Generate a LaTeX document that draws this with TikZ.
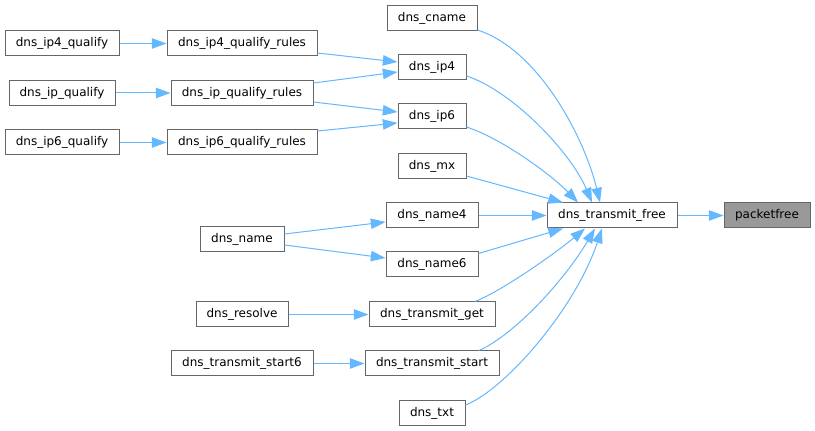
\documentclass[tikz,border=0pt]{standalone}
\usepackage{fontspec}
\setmainfont{DejaVu Sans}
\usetikzlibrary{arrows.meta,calc}
\definecolor{edgeblue}{HTML}{63B8FF}
\definecolor{boxgray}{HTML}{666666}
\definecolor{fillgray}{HTML}{999999}
\begin{document}
\begin{tikzpicture}[x=0.75pt,y=-0.75pt,
  box/.style={draw=boxgray, fill=white, line width=0.75pt, minimum height=18.75pt,
    inner sep=0pt, font=\fontsize{9}{10}\selectfont, text=black},
  bw/.style={minimum width=#1*0.75pt},
  hl/.style={fill=fillgray},
  edge/.style={draw=edgeblue, line width=0.75pt, -{Triangle[length=11pt,width=7.8pt]}}]
\fill[white] (0,0) rectangle (815,431);
\useasboundingbox (0,0) rectangle (815,431);
% column 1
\node[box,bw=114] (ip4q) at (62,43.5) {dns\_ip4\_qualify};
\node[box,bw=106] (ipq) at (62,93) {dns\_ip\_qualify};
\node[box,bw=114] (ip6q) at (62,142.5) {dns\_ip6\_qualify};
% column 2
\node[box,bw=150] (ip4qr) at (242,43.5) {dns\_ip4\_qualify\_rules};
\node[box,bw=142] (ipqr) at (242,93) {dns\_ip\_qualify\_rules};
\node[box,bw=150] (ip6qr) at (242,142.5) {dns\_ip6\_qualify\_rules};
\node[box,bw=84] (name) at (242,239.5) {dns\_name};
\node[box,bw=92] (resolve) at (242,314.5) {dns\_resolve};
\node[box,bw=142] (tstart6) at (242,363.5) {dns\_transmit\_start6};
% column 3
\node[box,bw=90] (cname) at (432,18) {dns\_cname};
\node[box,bw=68] (ip4) at (432,67) {dns\_ip4};
\node[box,bw=68] (ip6) at (432,116.5) {dns\_ip6};
\node[box,bw=68] (mx) at (432,166) {dns\_mx};
\node[box,bw=92] (name4) at (432,215.5) {dns\_name4};
\node[box,bw=92] (name6) at (432,264.5) {dns\_name6};
\node[box,bw=126] (tget) at (432,314.5) {dns\_transmit\_get};
\node[box,bw=134] (tstart) at (432,363.5) {dns\_transmit\_start};
\node[box,bw=66] (txt) at (432,413) {dns\_txt};
% column 4/5
\node[box,bw=130] (tfree) at (612,215.5) {dns\_transmit\_free};
\node[box,hl,bw=86] (pfree) at (767,215.5) {packetfree};
% edges
\draw[edge] (ip4q) -- (ip4qr);
\draw[edge] (ipq) -- (ipqr);
\draw[edge] (ip6q) -- (ip6qr);
\draw[edge] ($(ip4qr.east)+(0,9.5)$) -- ($(ip4.west)+(0,-5)$);
\draw[edge] ($(ipqr.east)+(0,-10)$) -- ($(ip4.west)+(0,5)$);
\draw[edge] ($(ipqr.east)+(0,9)$) -- ($(ip6.west)+(0,-4.5)$);
\draw[edge] ($(ip6qr.east)+(0,-11.5)$) -- ($(ip6.west)+(0,6.5)$);
\draw[edge] ($(name.east)+(0,-5.5)$) -- ($(name4.west)+(0,6.5)$);
\draw[edge] ($(name.east)+(0,5.5)$) -- ($(name6.west)+(0,-6.5)$);
\draw[edge] (resolve) -- (tget);
\draw[edge] (tstart6) -- (tstart);
\draw[edge] (name4) -- (tfree);
\draw[edge] (tfree) -- (pfree);
\draw[edge] ($(mx.east)+(0,10)$) -- ($(tfree.north)+(-49,0)$);
\draw[edge] ($(name6.north east)+(0,2)$) -- ($(tfree.south)+(-49,0)$);
\draw[edge] ($(cname.south east)+(0,-1)$) .. controls +(62,20) and +(-15,-63) .. ($(tfree.north)+(-12,0)$);
\draw[edge] ($(ip4.east)+(0,9)$) .. controls +(44,14) and +(-22,-52) .. ($(tfree.north)+(-20,0)$);
\draw[edge] ($(ip6.east)+(0,10.5)$) .. controls +(34,11) and +(-28,-29) .. ($(tfree.north)+(-34,0)$);
\draw[edge] ($(tget.north)+(43,0)$) .. controls +(30,-12) and +(-25,21) .. ($(tfree.south)+(-27,0)$);
\draw[edge] ($(tstart.north)+(47,0)$) .. controls +(36,-16) and +(-30,51) .. ($(tfree.south)+(-17,0)$);
\draw[edge] ($(txt.east)+(0,-8)$) .. controls +(39,-15) and +(-27,81) .. ($(tfree.south)+(-10,0)$);
\end{tikzpicture}
\end{document}
